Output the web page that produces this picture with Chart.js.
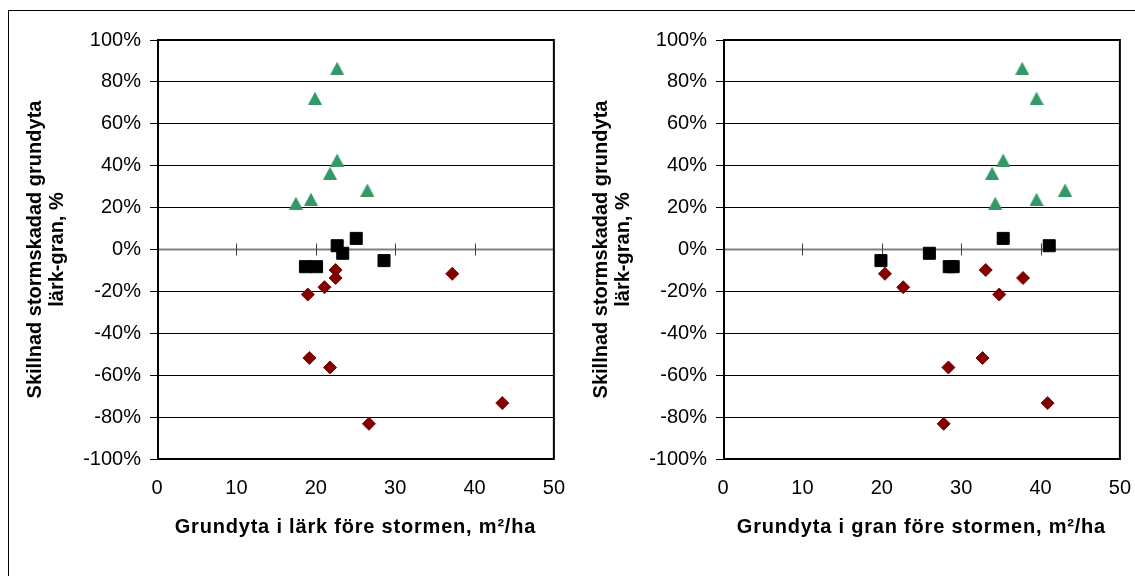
<!DOCTYPE html>
<html>
<head>
<meta charset="utf-8">
<script src="https://cdn.jsdelivr.net/npm/chart.js@4.4.1/dist/chart.umd.min.js"></script>
<style>
  html, body { margin: 0; padding: 0; background: #fff; overflow: hidden; }
  #wrap { position: relative; width: 1135px; height: 576px; overflow: hidden; }
  #frame { position: absolute; left: 8px; top: 10px; width: 1200px; height: 700px;
           border-top: 1px solid #000; border-left: 1px solid #000; }
  canvas { position: absolute; top: 0; }
  #cLarch { left: 0; }
  #cSpruce { left: 566px; }
</style>
</head>
<body>
<div id="wrap">
  <div id="frame"></div>
  <canvas id="cLarch" width="582" height="576"></canvas>
  <canvas id="cSpruce" width="582" height="576"></canvas>
</div>
<script>
// Difference in storm-damaged basal area, larch minus spruce (%)
// Stands where larch lost clearly more (triangles)
const diffLarchWorse   = [86.5, 72.2, 42.7, 36.4, 28.4, 24.0, 22.1];
const larchBA_LarchWorse  = [22.7, 19.9, 22.7, 21.8, 26.5, 19.4, 17.5];
const spruceBA_LarchWorse = [37.7, 39.5, 35.3, 33.9, 43.1, 39.5, 34.3];

// Stands with roughly equal damage (squares)
const diffSimilar      = [5.3, 1.8, -1.8, -5.3, -8.2, -8.2];
const larchBA_Similar  = [25.1, 22.7, 23.4, 28.6, 18.7, 20.1];
const spruceBA_Similar = [35.3, 41.1, 26.0, 19.9, 28.5, 29.0];

// Stands where spruce lost clearly more (diamonds)
const diffSpruceWorse   = [-9.8, -13.6, -18.0, -21.5, -11.6, -51.8, -56.3, -73.3, -83.2];
const larchBA_SpruceWorse  = [22.5, 22.5, 21.1, 19.0, 37.2, 19.2, 21.8, 43.5, 26.7];
const spruceBA_SpruceWorse = [33.1, 37.8, 22.7, 34.8, 20.4, 32.7, 28.4, 40.9, 27.8];

const yTitleLines = ['Skillnad stormskadad grundyta', 'lärk-gran, %'];
const xTitleLarch  = 'Grundyta i lärk före stormen, m²/ha';
const xTitleSpruce = 'Grundyta i gran före stormen, m²/ha';

const FONT = '"Liberation Sans", Arial, Helvetica, sans-serif';

function pairs(xs, ys) { return xs.map((x, i) => ({ x: x, y: ys[i] })); }

// Upright triangle marker centred on its bounding box
function triangleMarker() {
  const c = document.createElement('canvas');
  c.width = 14; c.height = 13;
  const g = c.getContext('2d');
  g.fillStyle = '#339966';
  g.beginPath(); g.moveTo(0, 13); g.lineTo(7, 0); g.lineTo(14, 13); g.closePath(); g.fill();
  return c;
}
const TRI = triangleMarker();

// Plot frame, the zero axis with its crossing tick marks, and the x-axis title
const frameAndAxis = {
  id: 'frameAndAxis',
  beforeDatasetsDraw(chart) {
    const { ctx, chartArea: a, scales: { x, y } } = chart;
    const y0 = y.getPixelForValue(0);
    ctx.save();
    ctx.strokeStyle = '#808080';
    ctx.lineWidth = 2;
    ctx.beginPath(); ctx.moveTo(a.left, y0); ctx.lineTo(a.right, y0); ctx.stroke();
    ctx.strokeStyle = '#404040';
    ctx.lineWidth = 1;
    x.ticks.map(t => t.value).filter(v => v > x.min && v < x.max).forEach(v => {
      const px = Math.round(x.getPixelForValue(v)) + 0.5;
      ctx.beginPath(); ctx.moveTo(px, y0 - 6); ctx.lineTo(px, y0 + 6); ctx.stroke();
    });
    ctx.strokeStyle = '#000';
    ctx.lineWidth = 2;
    ctx.strokeRect(a.left + 1, a.top, a.right - a.left - 1, a.bottom - a.top);
    ctx.restore();
  },
  afterDraw(chart, args, opts) {
    const { ctx, chartArea: a } = chart;
    ctx.save();
    ctx.font = 'bold 20px ' + FONT;
    ctx.fillStyle = '#000';
    ctx.textAlign = 'center';
    ctx.textBaseline = 'middle';
    if ('letterSpacing' in ctx) ctx.letterSpacing = '0.8px';
    ctx.fillText(opts.xTitle, (a.left + a.right) / 2, a.bottom + 68);
    ctx.restore();
  }
};

function makeChart(id, xLarchWorse, xSimilar, xSpruceWorse, xTitle) {
  return new Chart(document.getElementById(id), {
    type: 'scatter',
    data: {
      datasets: [
        { data: pairs(xSimilar, diffSimilar), pointStyle: 'rect', pointRadius: 8.5,
          backgroundColor: '#000', borderColor: '#000', borderWidth: 1 },
        { data: pairs(xSpruceWorse, diffSpruceWorse), pointStyle: 'rectRot', pointRadius: 6.5,
          backgroundColor: '#800000', borderColor: '#800000', borderWidth: 1 },
        { data: pairs(xLarchWorse, diffLarchWorse), pointStyle: TRI, pointRadius: 7 }
      ]
    },
    options: {
      responsive: false,
      animation: false,
      devicePixelRatio: 1,
      layout: { padding: { left: 0, right: 0, top: 40, bottom: 0 } },
      plugins: {
        legend: { display: false },
        tooltip: { enabled: false },
        frameAndAxis: { xTitle: xTitle }
      },
      scales: {
        x: {
          type: 'linear',
          min: 0, max: 50,
          afterFit: s => { s.height = 117; },
          border: { display: false },
          grid: { display: false, drawTicks: false },
          ticks: { stepSize: 10, padding: 17, maxRotation: 0, autoSkip: false,
                   color: '#000', font: { family: FONT, size: 20 } }
        },
        y: {
          min: -100, max: 100,
          afterFit: s => { s.width = 157; },
          border: { display: false },
          grid: {
            color: c => (c.tick && c.tick.value === 0) ? 'rgba(0,0,0,0)' : '#000',
            lineWidth: 1,
            tickColor: '#000',
            tickLength: 7
          },
          ticks: { stepSize: 20, padding: 9, color: '#000',
                   font: { family: FONT, size: 20 },
                   callback: v => v + '%' },
          title: { display: true, text: yTitleLines, color: '#000',
                   font: { family: FONT, size: 20, weight: 'bold', lineHeight: 1.1 },
                   padding: { top: 24, bottom: 0 } }
        }
      }
    },
    plugins: [frameAndAxis]
  });
}

makeChart('cLarch', larchBA_LarchWorse, larchBA_Similar, larchBA_SpruceWorse, xTitleLarch);
makeChart('cSpruce', spruceBA_LarchWorse, spruceBA_Similar, spruceBA_SpruceWorse, xTitleSpruce);
</script>
</body>
</html>
